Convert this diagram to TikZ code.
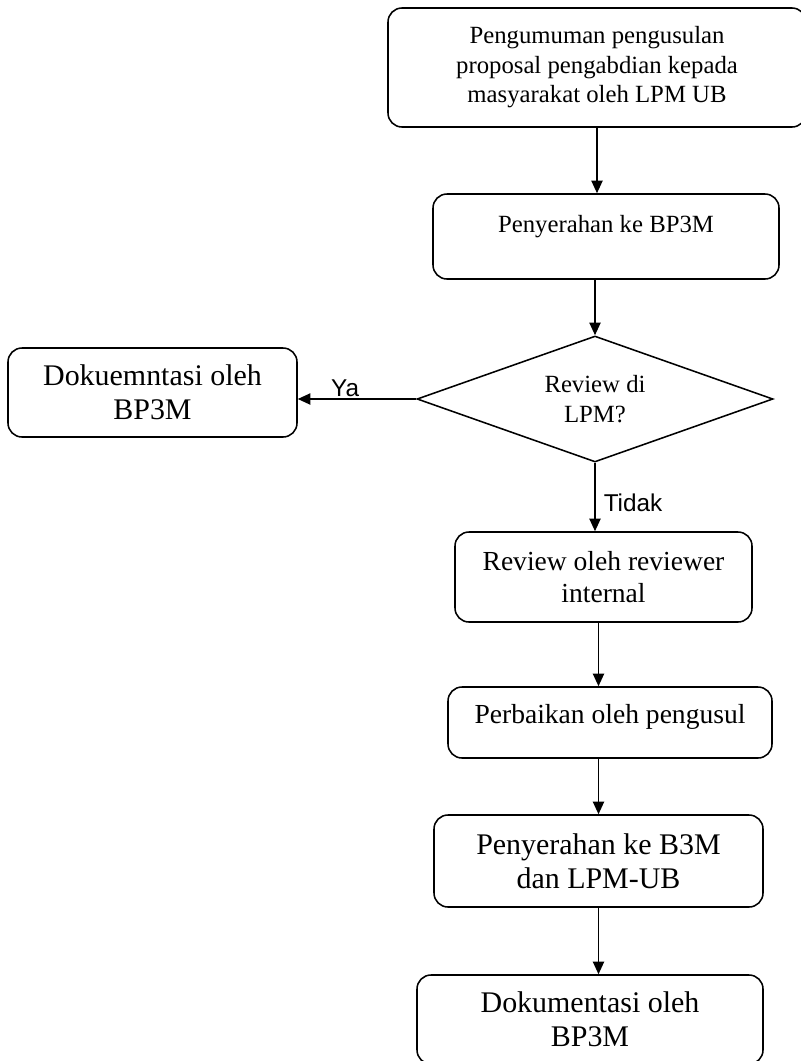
\documentclass[tikz,border=0pt]{standalone}
\usepackage{fontspec}
\setmainfont{Liberation Serif}
\newfontfamily\labelfont{Liberation Sans}
\usetikzlibrary{arrows.meta, positioning, shapes.geometric}

\newcommand{\txtS}{\fontsize{17.6}{21}\selectfont}
\newcommand{\txtM}{\fontsize{19.6}{22.8}\selectfont}
\newcommand{\txtL}{\fontsize{21.3}{24}\selectfont}

\begin{document}
\begin{tikzpicture}[
  node distance=4cm,
  box/.style  ={draw, rectangle, rounded corners=0.35cm, line width=1.1pt, align=center},
  cond/.style ={draw, diamond, aspect=2.83, line width=1.1pt, align=center, inner sep=0pt},
  flow/.style ={draw, line width=1.1pt, -{Triangle[length=9pt, width=8pt]}},
  lbl/.style  ={font=\labelfont\fontsize{17.3}{20}\selectfont},
]

\useasboundingbox (0,0) rectangle (20,-26.525);

\node [box , minimum width=10.45cm, minimum height=2.975cm, font=\txtS                                                    ] (umum) at (14.925,-1.6875) {Pengumuman pengusulan\\proposal pengabdian kepada\\masyarakat oleh LPM UB};
\node [box , minimum width=8.65cm , minimum height=2.125cm, font=\txtS, text depth=0.64cm, below of=umum , xshift=0.225cm , yshift=-0.225cm ] (serah) {Penyerahan ke BP3M};
\node [cond, minimum width=8.9cm  , minimum height=3.15cm , font=\txtS                   , below of=serah, xshift=-0.275cm, yshift=-0.0625cm] (lpm) {Review di\\LPM?};
\node [box , minimum width=7.225cm, minimum height=2.225cm, font=\txtL                   , left  of=lpm  , xshift=-7.0625cm, yshift=0.1625cm] (dok1) {Dokuemntasi oleh\\BP3M};
\node [box , minimum width=7.425cm, minimum height=2.25cm , font=\txtM                   , below of=lpm  , xshift=0.2125cm, yshift=-0.45cm  ] (rev) {Review oleh reviewer\\internal};
\node [box , minimum width=8.1cm  , minimum height=1.775cm, font=\txtM, text depth=0.45cm, below of=rev  , xshift=0.1625cm, yshift=0.3625cm  ] (baik) {Perbaikan oleh pengusul};
\node [box , minimum width=8.225cm, minimum height=2.3cm  , font=\txtL                   , below of=baik , xshift=-0.2875cm, yshift=0.5375cm ] (b3m) {Penyerahan ke B3M\\dan LPM-UB};
\node [box , minimum width=8.65cm , minimum height=2.225cm, font=\txtL                   , below of=b3m  , xshift=-0.2125cm, yshift=0.0375cm ] (dok2) {Dokumentasi oleh\\BP3M};

\path [flow] (umum.south) -- (umum.south |- serah.north);
\path [flow] (lpm.north |- serah.south) -- (lpm.north);

\path [flow] (lpm.west) -- node [lbl, pos=0.6, anchor=south, inner sep=1pt] (ya) {Ya} (lpm.west -| dok1.east);
\path [flow] (lpm.south) -- node [lbl, pos=0.58, anchor=west, inner sep=0.2cm] (tidak) {Tidak} (lpm.south |- rev.north);

\path [flow] (b3m.north |- rev.south) -- (b3m.north |- baik.north);
\path [flow] (b3m.north |- baik.south) -- (b3m.north);
\path [flow] (b3m.south) -- (b3m.south |- dok2.north);

\end{tikzpicture}
\end{document}
